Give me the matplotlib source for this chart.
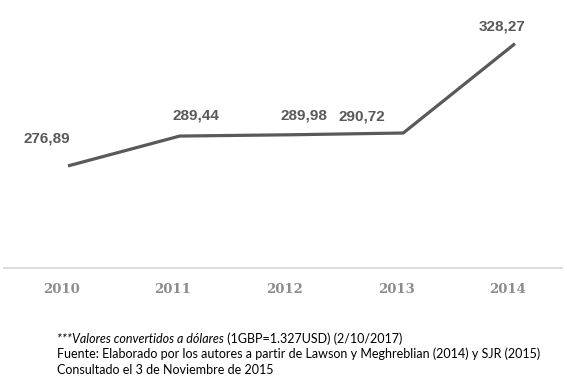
import matplotlib
matplotlib.use('Agg')
import matplotlib.pyplot as plt
import matplotlib.transforms as mtransforms

years = ['2010', '2011', '2012', '2013', '2014']
values = [276.89, 289.44, 289.98, 290.72, 328.27]
labels = ['276,89', '289,44', '289,98', '290,72', '328,27']
# label offsets from each point, in points
label_offsets = [(-15, 20), (12, 15), (9, 14), (-30, 12), (-9, 12)]

note_italic = '***Valores convertidos a dólares'
note_rest = ' (1GBP=1.327USD) (2/10/2017)'
note_lines = [
    'Fuente: Elaborado por los autores a partir de Lawson y Meghreblian (2014) y SJR (2015)',
    'Consultado el 3 de Noviembre de 2015',
]

W, H = 567, 386
fig = plt.figure(figsize=(W / 100, H / 100), dpi=100)
ax = fig.add_axes([4 / W, (H - 268) / H, (562 - 4) / W, 268 / H])

xs = list(range(len(years)))
ax.plot(xs, values, color='#595959', lw=2.3, solid_capstyle='butt')

for x, v, lab, (dx, dy) in zip(xs, values, labels, label_offsets):
    ax.annotate(lab, (x, v), xytext=(dx, dy), textcoords='offset points',
                ha='center', va='center', fontsize=11, fontweight='bold',
                family='Liberation Sans', color='#595959')

# map category centres: 2010 at px 68, spacing ~111.75 px
step = 111.75
ax.set_xlim((4 - 68) / step, (562 - 68) / step)
ax.set_ylim(234, 234 + 268 / 2.38)

for s in ['top', 'left', 'right']:
    ax.spines[s].set_visible(False)
ax.spines['bottom'].set_color('#d9d9d9')
ax.spines['bottom'].set_linewidth(1.3)
ax.set_yticks([])
ax.set_xticks(xs)
ax.set_xticklabels(years, family='DejaVu Serif', fontsize=9.5,
                   fontweight='bold', color='#8c8c8c')
ax.tick_params(axis='x', length=0, pad=11)
shift = mtransforms.ScaledTranslation(-7 / 100, 0, fig.dpi_scale_trans)
for t in ax.get_xticklabels():
    t.set_transform(t.get_transform() + shift)

# footnote
fx = 57 / W
t1 = fig.text(fx, 1 - 339 / H, note_italic, style='italic', family='Lato',
              fontsize=9, va='center', color='black')
fig.canvas.draw()
bb = t1.get_window_extent()
fig.text(bb.x1 / W, 1 - 339 / H, note_rest, family='Lato', fontsize=9,
         va='center', color='black')
for i, line in enumerate(note_lines):
    fig.text(fx, 1 - (354 + 15.5 * i) / H, line, family='Lato', fontsize=9,
             va='center', color='black')

fig.savefig('out.png', dpi=100)
